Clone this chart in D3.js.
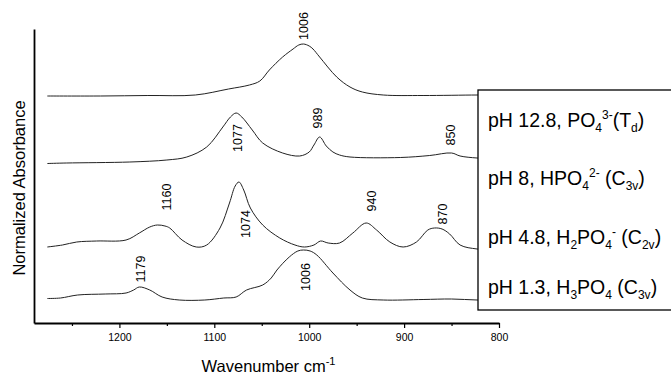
<!DOCTYPE html>
<html>
<head>
<meta charset="utf-8">
<script src="https://cdn.jsdelivr.net/npm/d3@7"></script>
<style>
  html, body { margin: 0; padding: 0; background: #fff; }
  svg { display: block; }
  text { font-family: "Liberation Sans", Arial, Helvetica, sans-serif; fill: #000; }
</style>
</head>
<body>
<svg id="chart" width="671" height="374"></svg>
<script>
// ---------------- data (wavenumber cm-1, normalized absorbance incl. offset) -------------
const majorTicks = [1200, 1100, 1000, 900, 800];
const minorTicks = [1250, 1150, 1050, 950, 850];

const pH128 = [
  [1276, 2.27], [1220, 2.27], [1170, 2.275], [1120, 2.28], [1085, 2.34], [1063, 2.38],
  [1052, 2.42], [1042, 2.53], [1028, 2.66], [1017, 2.74], [1011, 2.78], [1006, 2.79],
  [1000, 2.77], [996, 2.74], [989, 2.66], [971, 2.46], [957, 2.36], [944, 2.31],
  [922, 2.28], [880, 2.275], [823, 2.28], [800, 2.28]
];
const pH8 = [
  [1276, 1.595], [1256, 1.60], [1189, 1.61], [1150, 1.63], [1129, 1.66], [1108, 1.76],
  [1091, 1.96], [1083, 2.06], [1077, 2.10], [1071, 2.06], [1060, 1.93], [1049, 1.80],
  [1028, 1.70], [1010, 1.67], [1000, 1.71], [995, 1.78], [989, 1.86], [982, 1.77],
  [975, 1.71], [968, 1.68], [957, 1.66], [904, 1.655], [873, 1.675], [850, 1.70],
  [841, 1.67], [823, 1.65], [800, 1.645]
];
const pH48 = [
  [1276, 0.76], [1260, 0.78], [1245, 0.81], [1224, 0.82], [1193, 0.83], [1179, 0.90],
  [1168, 0.96], [1160, 0.98], [1152, 0.97], [1147, 0.95], [1134, 0.83], [1119, 0.76],
  [1108, 0.78], [1094, 0.95], [1084, 1.20], [1078, 1.37], [1074, 1.41], [1069, 1.33],
  [1062, 1.15], [1049, 0.98], [1031, 0.85], [1015, 0.78], [1005, 0.76], [995, 0.78],
  [988, 0.82], [980, 0.80], [968, 0.80], [954, 0.90], [940, 1.00], [929, 0.93],
  [915, 0.81], [901, 0.76], [887, 0.81], [875, 0.93], [868, 0.95], [860, 0.94],
  [852, 0.89], [841, 0.78], [823, 0.74], [800, 0.73]
];
const pH13 = [
  [1276, 0.245], [1262, 0.25], [1244, 0.28], [1215, 0.29], [1193, 0.30], [1185, 0.33],
  [1179, 0.36], [1168, 0.33], [1155, 0.26], [1137, 0.23], [1110, 0.23], [1090, 0.25],
  [1077, 0.26], [1066, 0.33], [1049, 0.38], [1040, 0.45], [1034, 0.53], [1021, 0.66],
  [1012, 0.72], [1006, 0.73], [999, 0.72], [992, 0.68], [975, 0.50], [957, 0.33],
  [944, 0.25], [922, 0.23], [880, 0.235], [850, 0.24], [823, 0.23], [800, 0.23]
];
const seriesList = [pH128, pH8, pH48, pH13];

// peak annotations: [label, wavenumber, absorbance]
const peakLabels = [
  ["1006", 1005, 2.97], ["1077", 1075, 1.85], ["989", 991, 2.05], ["850", 851, 1.88],
  ["1160", 1150, 1.26], ["1074", 1067, 0.99], ["940", 934, 1.22], ["870", 859, 1.09],
  ["1179", 1177, 0.54], ["1006", 1003, 0.46]
];

// legend entries as rich-text segments: [text, "n" | "sub" | "sup"]
const legendEntries = [
  [["pH 12.8, PO", "n"], ["4", "sub"], ["3-", "sup"], ["(T", "n"], ["d", "sub"], [")", "n"]],
  [["pH 8, HPO", "n"], ["4", "sub"], ["2-", "sup"], [" (C", "n"], ["3v", "sub"], [")", "n"]],
  [["pH 4.8, H", "n"], ["2", "sub"], ["PO", "n"], ["4", "sub"], ["-", "sup"], [" (C", "n"], ["2v", "sub"], [")", "n"]],
  [["pH 1.3, H", "n"], ["3", "sub"], ["PO", "n"], ["4", "sub"], [" (C", "n"], ["3v", "sub"], [")", "n"]]
];

const xTitle = "Wavenumber cm";
const yTitle = "Normalized Absorbance";

// ---------------- drawing -------------
const svg = d3.select("#chart");
const x = d3.scaleLinear().domain([1290, 800]).range([34, 499]);
const y = d3.scaleLinear().domain([0, 2.94]).range([323, 29]);

const line = d3.line()
  .x(d => x(d[0]))
  .y(d => y(d[1]))
  .curve(d3.curveCatmullRom.alpha(0.5));

svg.append("g").selectAll("path").data(seriesList).join("path")
  .attr("d", line)
  .attr("fill", "none")
  .attr("stroke", "#222")
  .attr("stroke-width", 1);

// peak labels
svg.append("g").selectAll("text").data(peakLabels).join("text")
  .attr("transform", d => `translate(${x(d[1])},${y(d[2])}) rotate(-90)`)
  .attr("text-anchor", "middle")
  .attr("dominant-baseline", "central")
  .style("font-size", "12.5px")
  .text(d => d[0]);

// axes
const xAxis = d3.axisBottom(x).tickValues(majorTicks).tickSize(5).tickSizeOuter(0).tickFormat(d3.format("d"));
const gx = svg.append("g").attr("transform", `translate(0,${y(0)})`).call(xAxis);
gx.select(".domain").attr("stroke", "#000").attr("stroke-width", 1.8);
gx.selectAll(".tick line").attr("stroke", "#000").attr("stroke-width", 1.2);
gx.selectAll(".tick text").style("font-size", "10.5px").attr("dy", "0.95em")
  .style("font-family", "'Liberation Sans', Arial, sans-serif");

const xMinor = d3.axisBottom(x).tickValues(minorTicks).tickSize(3).tickSizeOuter(0).tickFormat("");
const gxm = svg.append("g").attr("transform", `translate(0,${y(0)})`).call(xMinor);
gxm.select(".domain").remove();
gxm.selectAll(".tick line").attr("stroke", "#000").attr("stroke-width", 1.2);

const yAxis = d3.axisLeft(y).tickValues([]).tickSizeOuter(0);
const gy = svg.append("g").attr("transform", `translate(${x(1290)},0)`).call(yAxis);
gy.select(".domain").attr("stroke", "#000").attr("stroke-width", 1.8);

// axis titles
const xt = svg.append("text")
  .attr("x", (x.range()[0] + x.range()[1]) / 2 + 2)
  .attr("y", 372)
  .attr("text-anchor", "middle")
  .style("font-size", "16.5px");
xt.append("tspan").text(xTitle);
xt.append("tspan").attr("dy", -7).style("font-size", "11px").text("-1");

svg.append("text")
  .attr("transform", `translate(25,${(y.range()[0] + y.range()[1]) / 2 + 12}) rotate(-90)`)
  .attr("text-anchor", "middle")
  .style("font-size", "16.5px")
  .text(yTitle);

// legend
const legend = svg.append("g");
legend.append("rect")
  .attr("x", 478).attr("y", 90).attr("width", 200).attr("height", 220)
  .attr("fill", "#fff").attr("stroke", "#000").attr("stroke-width", 1.3);

const legendBaselines = [127, 185, 244, 294];
legendEntries.forEach((segs, i) => {
  const t = legend.append("text")
    .attr("x", 488).attr("y", legendBaselines[i])
    .style("font-size", "19.5px");
  let shift = 0;
  segs.forEach(([s, kind]) => {
    const target = kind === "sub" ? 5 : kind === "sup" ? -8 : 0;
    t.append("tspan")
      .attr("dy", target - shift)
      .style("font-size", kind === "n" ? "19.5px" : "12px")
      .text(s);
    shift = target;
  });
});
</script>
</body>
</html>
